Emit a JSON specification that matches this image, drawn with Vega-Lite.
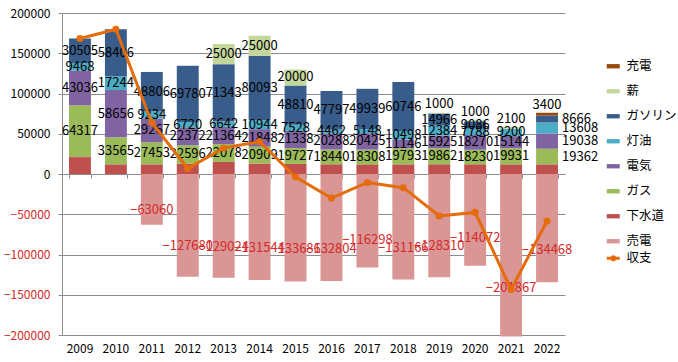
{
  "$schema": "https://vega.github.io/schema/vega-lite/v6.json",
  "width": 503,
  "height": 322,
  "autosize": {"type": "none"},
  "padding": {"left": 62, "top": 13, "right": 113, "bottom": 27},
  "background": "white",
  "config": {
    "font": "Noto Sans CJK JP",
    "view": {"stroke": null},
    "legend": {"labelFont": "Noto Sans CJK JP", "labelFontSize": 12.5, "labelColor": "black", "rowPadding": 12, "labelOffset": 7}
  },
  "datasets": {
    "costs": [
      {"year": "2009", "item": "下水道", "value": 21000},
      {"year": "2009", "item": "ガス", "value": 64317},
      {"year": "2009", "item": "電気", "value": 43036},
      {"year": "2009", "item": "灯油", "value": 9468},
      {"year": "2009", "item": "ガソリン", "value": 30505},
      {"year": "2010", "item": "下水道", "value": 12000},
      {"year": "2010", "item": "ガス", "value": 33565},
      {"year": "2010", "item": "電気", "value": 58656},
      {"year": "2010", "item": "灯油", "value": 17244},
      {"year": "2010", "item": "ガソリン", "value": 58406},
      {"year": "2011", "item": "下水道", "value": 12000},
      {"year": "2011", "item": "ガス", "value": 27453},
      {"year": "2011", "item": "電気", "value": 29267},
      {"year": "2011", "item": "灯油", "value": 9234},
      {"year": "2011", "item": "ガソリン", "value": 48806},
      {"year": "2011", "item": "売電", "value": -63060},
      {"year": "2012", "item": "下水道", "value": 13000},
      {"year": "2012", "item": "ガス", "value": 22596},
      {"year": "2012", "item": "電気", "value": 22372},
      {"year": "2012", "item": "灯油", "value": 6720},
      {"year": "2012", "item": "ガソリン", "value": 69780},
      {"year": "2012", "item": "売電", "value": -127680},
      {"year": "2013", "item": "下水道", "value": 15000},
      {"year": "2013", "item": "ガス", "value": 22078},
      {"year": "2013", "item": "電気", "value": 21364},
      {"year": "2013", "item": "灯油", "value": 6642},
      {"year": "2013", "item": "ガソリン", "value": 71343},
      {"year": "2013", "item": "薪", "value": 25000},
      {"year": "2013", "item": "売電", "value": -129024},
      {"year": "2014", "item": "下水道", "value": 13000},
      {"year": "2014", "item": "ガス", "value": 20909},
      {"year": "2014", "item": "電気", "value": 21848},
      {"year": "2014", "item": "灯油", "value": 10944},
      {"year": "2014", "item": "ガソリン", "value": 80093},
      {"year": "2014", "item": "薪", "value": 25000},
      {"year": "2014", "item": "売電", "value": -131544},
      {"year": "2015", "item": "下水道", "value": 12500},
      {"year": "2015", "item": "ガス", "value": 19727},
      {"year": "2015", "item": "電気", "value": 21338},
      {"year": "2015", "item": "灯油", "value": 7528},
      {"year": "2015", "item": "ガソリン", "value": 48810},
      {"year": "2015", "item": "薪", "value": 20000},
      {"year": "2015", "item": "売電", "value": -133686},
      {"year": "2016", "item": "下水道", "value": 12000},
      {"year": "2016", "item": "ガス", "value": 18440},
      {"year": "2016", "item": "電気", "value": 20288},
      {"year": "2016", "item": "灯油", "value": 4462},
      {"year": "2016", "item": "ガソリン", "value": 47797},
      {"year": "2016", "item": "売電", "value": -132804},
      {"year": "2017", "item": "下水道", "value": 12000},
      {"year": "2017", "item": "ガス", "value": 18308},
      {"year": "2017", "item": "電気", "value": 20425},
      {"year": "2017", "item": "灯油", "value": 5148},
      {"year": "2017", "item": "ガソリン", "value": 49939},
      {"year": "2017", "item": "売電", "value": -116298},
      {"year": "2018", "item": "下水道", "value": 12000},
      {"year": "2018", "item": "ガス", "value": 19793},
      {"year": "2018", "item": "電気", "value": 11146},
      {"year": "2018", "item": "灯油", "value": 10498},
      {"year": "2018", "item": "ガソリン", "value": 60746},
      {"year": "2018", "item": "売電", "value": -131166},
      {"year": "2019", "item": "下水道", "value": 12000},
      {"year": "2019", "item": "ガス", "value": 19862},
      {"year": "2019", "item": "電気", "value": 15925},
      {"year": "2019", "item": "灯油", "value": 12384},
      {"year": "2019", "item": "ガソリン", "value": 14966},
      {"year": "2019", "item": "薪", "value": 1000},
      {"year": "2019", "item": "売電", "value": -128310},
      {"year": "2020", "item": "下水道", "value": 12000},
      {"year": "2020", "item": "ガス", "value": 18230},
      {"year": "2020", "item": "電気", "value": 18270},
      {"year": "2020", "item": "灯油", "value": 7788},
      {"year": "2020", "item": "ガソリン", "value": 9086},
      {"year": "2020", "item": "薪", "value": 1000},
      {"year": "2020", "item": "売電", "value": -114072},
      {"year": "2021", "item": "下水道", "value": 12000},
      {"year": "2021", "item": "ガス", "value": 19931},
      {"year": "2021", "item": "電気", "value": 15144},
      {"year": "2021", "item": "灯油", "value": 9200},
      {"year": "2021", "item": "薪", "value": 2100},
      {"year": "2021", "item": "売電", "value": -201867},
      {"year": "2022", "item": "下水道", "value": 12000},
      {"year": "2022", "item": "ガス", "value": 19362},
      {"year": "2022", "item": "電気", "value": 19038},
      {"year": "2022", "item": "灯油", "value": 13608},
      {"year": "2022", "item": "ガソリン", "value": 8666},
      {"year": "2022", "item": "充電", "value": 3400},
      {"year": "2022", "item": "売電", "value": -134468}
    ],
    "balance": [
      {"year": "2009", "value": 168326},
      {"year": "2010", "value": 179871},
      {"year": "2011", "value": 63700},
      {"year": "2012", "value": 6788},
      {"year": "2013", "value": 32403},
      {"year": "2014", "value": 40250},
      {"year": "2015", "value": -3783},
      {"year": "2016", "value": -29817},
      {"year": "2017", "value": -10478},
      {"year": "2018", "value": -16983},
      {"year": "2019", "value": -52173},
      {"year": "2020", "value": -47698},
      {"year": "2021", "value": -143492},
      {"year": "2022", "value": -58394}
    ]
  },
  "layer": [
    {
      "data": {"name": "costs"},
      "transform": [
        {"calculate": "indexof(['下水道','ガス','電気','灯油','ガソリン','薪','充電','売電'], datum.item)", "as": "ord"},
        {"stack": "value", "groupby": ["year"], "sort": [{"field": "ord"}], "as": ["v0", "v1"]}
      ],
      "mark": {"type": "bar"},
      "encoding": {
        "x": {"field": "year", "type": "ordinal", "scale": {"paddingInner": 0.39, "paddingOuter": 0.195},
              "axis": {"title": null, "orient": "bottom", "labelAngle": 0, "domain": false, "ticks": false, "labelPadding": 8, "labelFontSize": 12, "labelColor": "black", "labelFont": "Noto Sans CJK JP"}},
        "y": {"field": "v0", "type": "quantitative", "scale": {"domain": [-200000, 200000], "nice": false},
              "axis": {"title": null, "format": "d", "values": [-200000, -150000, -100000, -50000, 0, 50000, 100000, 150000, 200000], "grid": true, "gridColor": "#8c8c8c", "domainColor": "#8c8c8c", "tickColor": "#8c8c8c", "tickSize": 4, "labelPadding": 8, "labelFontSize": 12, "labelFont": "Noto Sans CJK JP", "labelColor": {"condition": {"test": "datum.value < 0", "value": "#d42a2a"}, "value": "black"}}},
        "y2": {"field": "v1"},
        "color": {"field": "item", "type": "nominal",
                  "scale": {"domain": ["充電", "薪", "ガソリン", "灯油", "電気", "ガス", "下水道", "売電"],
                            "range": ["#984807", "#c4d79b", "#385d8a", "#4bacc6", "#8064a2", "#9bbb59", "#c0504d", "#d99694"]},
                  "legend": {"title": null, "orient": "none", "legendX": 545, "legendY": 47, "symbolType": "M-1.5,-0.5H1.5V0.5H-1.5Z", "symbolSize": 75, "symbolStrokeWidth": 0}}
      }
    },
    {
      "data": {"name": "costs"},
      "transform": [
        {"calculate": "indexof(['下水道','ガス','電気','灯油','ガソリン','薪','充電','売電'], datum.item)", "as": "ord"},
        {"stack": "value", "groupby": ["year"], "sort": [{"field": "ord"}], "as": ["v0", "v1"]},
        {"calculate": "datum.item === '売電' ? datum.value * 0.7 : (datum.v0 + datum.v1) / 2", "as": "mid"},
        {"filter": "datum.item !== '下水道' && !(datum.year === '2022' && datum.item !== '売電') && !(datum.item === '薪' && datum.value < 5000)"}
      ],
      "mark": {"type": "text", "fontSize": 13, "font": "Noto Sans CJK JP"},
      "encoding": {
        "x": {"field": "year", "type": "ordinal", "axis": null},
        "y": {"field": "mid", "type": "quantitative"},
        "text": {"field": "value", "type": "quantitative", "format": "d"},
        "color": {"condition": {"test": "datum.item === '売電'", "value": "#d42a2a"}, "value": "black"}
      }
    },
    {
      "data": {"name": "costs"},
      "transform": [
        {"calculate": "indexof(['下水道','ガス','電気','灯油','ガソリン','薪','充電','売電'], datum.item)", "as": "ord"},
        {"stack": "value", "groupby": ["year"], "sort": [{"field": "ord"}], "as": ["v0", "v1"]},
        {"calculate": "(datum.v0 + datum.v1) / 2", "as": "mid"},
        {"filter": "(datum.item === '薪' && datum.value < 5000) || datum.item === '充電'"}
      ],
      "mark": {"type": "text", "fontSize": 13, "font": "Noto Sans CJK JP", "dy": -9, "color": "black"},
      "encoding": {
        "x": {"field": "year", "type": "ordinal", "axis": null},
        "y": {"field": "mid", "type": "quantitative"},
        "text": {"field": "value", "type": "quantitative", "format": "d"}
      }
    },
    {
      "data": {"name": "costs"},
      "transform": [
        {"calculate": "indexof(['下水道','ガス','電気','灯油','ガソリン','薪','充電','売電'], datum.item)", "as": "ord"},
        {"stack": "value", "groupby": ["year"], "sort": [{"field": "ord"}], "as": ["v0", "v1"]},
        {"calculate": "(datum.v0 + datum.v1) / 2", "as": "mid"},
        {"filter": "datum.year === '2022' && indexof(['ガス','電気','灯油','ガソリン'], datum.item) >= 0"}
      ],
      "mark": {"type": "text", "fontSize": 13, "font": "Noto Sans CJK JP", "align": "left", "dx": 15, "color": "black"},
      "encoding": {
        "x": {"field": "year", "type": "ordinal", "axis": null},
        "y": {"field": "mid", "type": "quantitative"},
        "text": {"field": "value", "type": "quantitative", "format": "d"}
      }
    },
    {
      "data": {"name": "balance"},
      "mark": {"type": "line", "strokeWidth": 3, "point": {"filled": true, "size": 50, "color": "#e46c0a"}},
      "encoding": {
        "x": {"field": "year", "type": "ordinal",
              "axis": {"title": null, "orient": "bottom", "offset": -161, "labels": false, "domain": true, "ticks": true, "tickBand": "extent", "tickSize": 4, "domainColor": "#8c8c8c", "tickColor": "#8c8c8c", "grid": false}},
        "y": {"field": "value", "type": "quantitative"},
        "color": {"datum": "収支", "scale": {"domain": ["収支"], "range": ["#e46c0a"]},
                  "legend": {"title": null, "orient": "none", "legendX": 545, "legendY": 239, "symbolType": "M-1.5,0H1.5M0.35,0A0.35,0.35,0,1,1,-0.35,0A0.35,0.35,0,1,1,0.35,0", "symbolSize": 75,
                             "encode": {"symbols": {"update": {"fill": {"value": "#e46c0a"}, "stroke": {"value": "#e46c0a"}, "strokeWidth": {"value": 3}}}}}}
      }
    }
  ],
  "resolve": {"scale": {"color": "independent"}, "axis": {"x": "independent"}}
}
